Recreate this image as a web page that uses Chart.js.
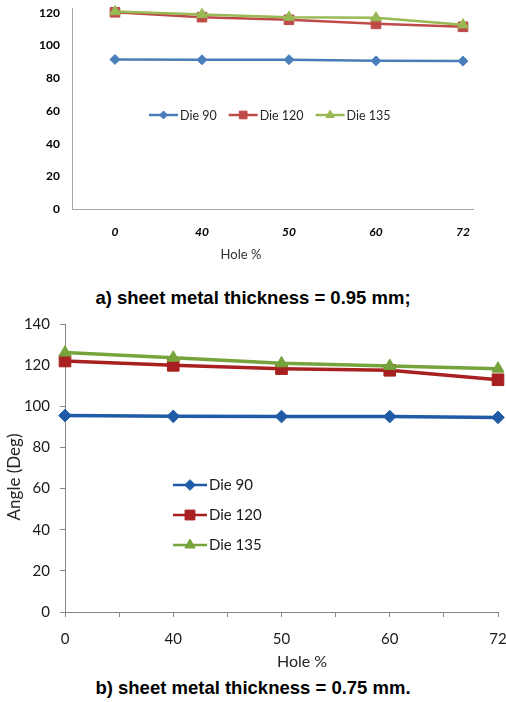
<!DOCTYPE html>
<html>
<head>
<meta charset="utf-8">
<script src="https://cdn.jsdelivr.net/npm/chart.js@4.4.1/dist/chart.umd.min.js"></script>
<style>
html,body{margin:0;padding:0;background:#fff;}
body{width:506px;height:702px;position:relative;overflow:hidden;}
.wrap{position:absolute;left:0;width:506px;}
canvas{display:block;}
.cap{position:absolute;left:0;width:506px;text-align:center;font:bold 18.5px "Liberation Sans",Arial,sans-serif;color:#000;line-height:20px;}
</style>
</head>
<body>
<div class="wrap" style="top:0;height:262px;"><canvas id="chartA" width="506" height="262"></canvas></div>
<div class="cap" style="top:288px;">a) sheet metal thickness = 0.95 mm;</div>
<div class="wrap" style="top:310px;height:365px;"><canvas id="chartB" width="506" height="365"></canvas></div>
<div class="cap" style="top:678px;">b) sheet metal thickness = 0.75 mm.</div>
<script>
// ---- data ----
const holeLabels = ['0', '40', '50', '60', '72'];
const seriesNames = ['Die 90', 'Die 120', 'Die 135'];
// a) 0.95 mm
const die90A  = [91.5, 91.3, 91.4, 90.7, 90.5];
const die120A = [120.4, 117.4, 115.8, 113.3, 111.5];
const die135A = [120.8, 119.0, 117.4, 117.0, 112.7];
// b) 0.75 mm
const die90B  = [95.5, 95.1, 95.0, 95.0, 94.6];
const die120B = [122.0, 119.9, 118.3, 117.5, 112.9];
const die135B = [126.1, 123.6, 120.9, 119.6, 118.3];
const yTicksA = [0, 20, 40, 60, 80, 100, 120];
const yTicksB = [0, 20, 40, 60, 80, 100, 120, 140];

const toPts = arr => arr.map((v, i) => ({x: i, y: v}));
const noEdgePad = s => { s.paddingTop = 0; s.paddingBottom = 0; s.paddingLeft = 0; s.paddingRight = 0; };

// ---- plugins ----
function drawMarker(ctx, style, r, x, y) {
  ctx.beginPath();
  if (style === 'rectRot') {
    ctx.moveTo(x, y - r); ctx.lineTo(x + r, y); ctx.lineTo(x, y + r); ctx.lineTo(x - r, y);
  } else if (style === 'rect') {
    const s = r * Math.SQRT1_2;
    ctx.rect(x - s, y - s, 2 * s, 2 * s);
  } else {
    const h = r * Math.sqrt(3) / 2;
    ctx.moveTo(x, y - r); ctx.lineTo(x + h, y + r / 2); ctx.lineTo(x - h, y + r / 2);
  }
  ctx.closePath();
  ctx.fill();
  ctx.stroke();
}

const lineLegend = {
  id: 'lineLegend',
  afterDraw(chart, args, o) {
    const ctx = chart.ctx;
    ctx.save();
    ctx.font = o.font;
    ctx.textBaseline = 'middle';
    let x = o.x, y = o.y;
    o.order.forEach(idx => {
      const ds = chart.data.datasets[idx];
      ctx.strokeStyle = ds.borderColor;
      ctx.lineWidth = o.lineWidth;
      ctx.beginPath(); ctx.moveTo(x, y); ctx.lineTo(x + o.lineLen, y); ctx.stroke();
      ctx.fillStyle = ds.pointBackgroundColor;
      ctx.lineWidth = 1;
      drawMarker(ctx, ds.pointStyle, ds.pointRadius * o.markerScale, x + o.lineLen / 2, y);
      ctx.fillStyle = o.color;
      ctx.textAlign = 'left';
      ctx.fillText(ds.label, x + o.lineLen + 2, y + 0.5);
      if (o.dir === 'h') {
        x += o.lineLen + 2 + ctx.measureText(ds.label).width + o.gap;
      } else {
        y += o.step;
      }
    });
    ctx.restore();
  }
};

const axisTitles = {
  id: 'axisTitles',
  afterDraw(chart, args, o) {
    const ctx = chart.ctx;
    o.items.forEach(t => {
      ctx.save();
      ctx.font = t.font;
      ctx.fillStyle = t.color;
      ctx.textAlign = 'center';
      ctx.textBaseline = 'middle';
      ctx.translate(t.x, t.y);
      if (t.rotate) ctx.rotate(t.rotate * Math.PI / 180);
      ctx.fillText(t.text, 0, 0);
      ctx.restore();
    });
  }
};

function mkDs(label, values, color, style, radius, width, order) {
  return {
    label, data: toPts(values),
    borderColor: color, backgroundColor: color,
    pointBackgroundColor: color, pointBorderColor: color,
    pointStyle: style, pointRadius: radius, pointBorderWidth: 1,
    borderWidth: width, tension: 0, clip: false, order
  };
}

// ---- chart a ----
const colA = ['#4A7EBB', '#BE4B48', '#98B954'];
new Chart(document.getElementById('chartA'), {
  type: 'line',
  data: {
    datasets: [
      mkDs(seriesNames[0], die90A, colA[0], 'rectRot', 5, 2.5, 2),
      mkDs(seriesNames[1], die120A, colA[1], 'rect', 6.8, 2.5, 1),
      mkDs(seriesNames[2], die135A, colA[2], 'triangle', 6.2, 2.5, 0)
    ]
  },
  options: {
    responsive: false, animation: false,
    layout: {autoPadding: false, padding: {top: 8, right: 33, left: 0, bottom: 0}},
    plugins: {
      legend: {display: false}, tooltip: {enabled: false},
      lineLegend: {x: 149, y: 115, dir: 'h', lineLen: 29, gap: 12, lineWidth: 2.5, markerScale: 0.8,
        font: '12.5px Lato, sans-serif', color: '#262626', order: [0, 1, 2]},
      axisTitles: {items: [{text: 'Hole %', x: 241, y: 255, font: '13px Lato, sans-serif', color: '#333'}]}
    },
    scales: {
      x: {
        type: 'linear', min: -0.494, max: 4.115,
        afterBuildTicks: s => { s.ticks = holeLabels.map((_, i) => ({value: i})); },
        afterFit: s => { s.height = 53; noEdgePad(s); },
        grid: {display: false, drawTicks: false},
        border: {color: '#a6a6a6', width: 1},
        ticks: {callback: v => holeLabels[v] ?? '', font: {family: 'Lato', size: 12, weight: 'bold', style: 'italic'},
          color: '#000', padding: 16, maxRotation: 0, autoSkip: false}
      },
      y: {
        min: 0, max: 123,
        afterBuildTicks: s => { s.ticks = yTicksA.map(v => ({value: v})); },
        afterFit: s => { s.width = 72; noEdgePad(s); },
        grid: {display: false, drawTicks: false},
        border: {color: '#a6a6a6', width: 1},
        ticks: {font: {family: 'Lato', size: 12, weight: 'bold'}, color: '#000', padding: 12}
      }
    }
  },
  plugins: [lineLegend, axisTitles]
});

// ---- chart b ----
const colB = ['#1F5BA6', '#A8201F', '#76A33B'];
new Chart(document.getElementById('chartB'), {
  type: 'line',
  data: {
    datasets: [
      mkDs(seriesNames[0], die90B, colB[0], 'rectRot', 6.3, 3.5, 2),
      mkDs(seriesNames[1], die120B, colB[1], 'rect', 8.2, 3.5, 1),
      mkDs(seriesNames[2], die135B, colB[2], 'triangle', 7, 3.5, 0)
    ]
  },
  options: {
    responsive: false, animation: false,
    layout: {autoPadding: false, padding: {top: 14, right: 8, left: 0, bottom: 0}},
    plugins: {
      legend: {display: false}, tooltip: {enabled: false},
      lineLegend: {x: 173, y: 175, dir: 'v', step: 30, lineLen: 34, lineWidth: 2.5, markerScale: 0.85,
        font: '15px Lato, sans-serif', color: '#1a1a1a', order: [0, 1, 2]},
      axisTitles: {items: [
        {text: 'Hole %', x: 302, y: 352, font: '16px Lato, sans-serif', color: '#262626'},
        {text: 'Angle (Deg)', x: 15, y: 167, rotate: -90, font: '17px Lato, sans-serif', color: '#262626'}
      ]}
    },
    scales: {
      x: {
        type: 'linear', min: 0, max: 4,
        afterBuildTicks: s => { const t = []; for (let i = 0; i <= (holeLabels.length - 1) * 2; i++) t.push({value: i / 2}); s.ticks = t; },
        afterFit: s => { s.height = 63; noEdgePad(s); },
        grid: {display: true, drawOnChartArea: false, drawTicks: true, tickLength: 5, color: '#868686'},
        border: {color: '#868686', width: 1},
        ticks: {callback: v => Number.isInteger(v) ? holeLabels[v] : '', font: {family: 'Lato', size: 15},
          color: '#1a1a1a', padding: 13, maxRotation: 0, autoSkip: false}
      },
      y: {
        min: 0, max: 140,
        afterBuildTicks: s => { s.ticks = yTicksB.map(v => ({value: v})); },
        afterFit: s => { s.width = 65; noEdgePad(s); },
        grid: {display: true, drawOnChartArea: false, drawTicks: true, tickLength: 5, color: '#868686'},
        border: {color: '#868686', width: 1},
        ticks: {font: {family: 'Lato', size: 15}, color: '#1a1a1a', padding: 10}
      }
    }
  },
  plugins: [lineLegend, axisTitles]
});
</script>
</body>
</html>
